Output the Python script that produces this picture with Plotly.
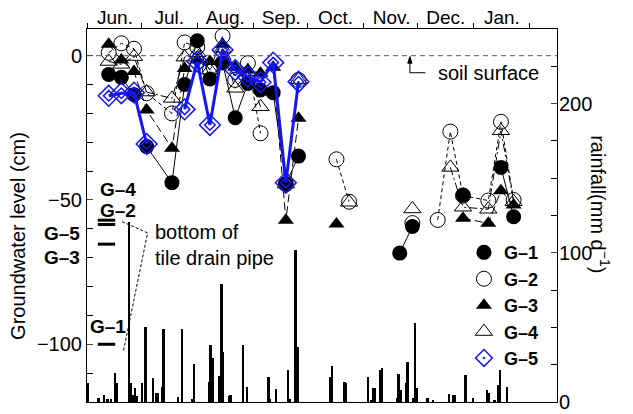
import pandas as pd
import plotly.graph_objects as go

# ---------------- data ----------------
obs_dates = ["2006-06-13", "2006-06-20", "2006-06-27", "2006-07-04", "2006-07-18",
             "2006-07-25", "2006-08-01", "2006-08-08", "2006-08-15", "2006-08-22",
             "2006-08-29", "2006-09-05", "2006-09-12", "2006-09-19", "2006-09-26",
             "2006-10-03", "2006-10-17", "2006-10-24", "2006-11-07", "2006-11-21",
             "2006-11-28", "2006-12-05", "2006-12-12", "2006-12-19", "2006-12-26",
             "2007-01-09", "2007-01-16", "2007-01-23"]
N = None
g1 = [-6.5, -7.5, -13.5, -31.5, -44.0, -10.0, 5.2, -8.1, -2.5, -21.5,
      -9.6, -11.9, -12.8, -44.5, -34.8, N, N, N, N, -68.4,
      -59.2, N, N, N, -48.3, N, -38.7, -55.8]
g2 = [1.0, 4.3, 2.4, -13.0, -20.0, 4.6, 3.0, -5.0, 6.8, -8.4,
      -2.6, -26.9, N, -44.5, -8.4, N, -35.9, -50.6, N, N,
      -58.0, N, -56.9, -26.3, -48.5, -50.2, -22.9, -50.0]
g3 = [4.0, -1.5, -5.5, -18.8, -32.1, -4.4, -1.5, -2.0, 4.0, -4.0,
      -5.0, -6.1, -4.0, -57.0, -21.7, N, -58.3, N, N, N,
      N, N, N, N, -56.3, -58.1, -46.8, -51.7]
g4 = [-2.0, -3.0, -0.3, -12.6, -14.8, -0.5, 1.0, -5.0, 2.5, -11.3,
      -5.5, -17.7, N, -44.5, -8.4, N, N, -50.8, N, N,
      -53.1, N, N, -38.7, -52.5, -53.2, -26.0, -50.6]
g5 = [-13.9, -13.0, -12.8, -30.6, N, -18.6, -2.0, -24.0, 2.0, -5.0,
      -7.3, -9.2, -2.4, -44.0, -9.0, N, N, N, N, N,
      N, N, N, N, N, N, N, N]

rain_dates = ["2006-06-01", "2006-06-07", "2006-06-10", "2006-06-12", "2006-06-14",
              "2006-06-16", "2006-06-17", "2006-06-24", "2006-06-25", "2006-06-26",
              "2006-06-27", "2006-06-28", "2006-07-01", "2006-07-03", "2006-07-07",
              "2006-07-09", "2006-07-10", "2006-07-12", "2006-07-13", "2006-07-21",
              "2006-07-23", "2006-07-29", "2006-07-30", "2006-08-07", "2006-08-08",
              "2006-08-09", "2006-08-13", "2006-08-14", "2006-08-15", "2006-08-18",
              "2006-08-19", "2006-08-26", "2006-08-28", "2006-09-09", "2006-09-10",
              "2006-09-13", "2006-09-20", "2006-09-21", "2006-09-24", "2006-09-25",
              "2006-10-13", "2006-10-14", "2006-10-21", "2006-10-22", "2006-11-03",
              "2006-11-05", "2006-11-06", "2006-11-07", "2006-11-10", "2006-11-11",
              "2006-11-19", "2006-11-20", "2006-11-21", "2006-11-24", "2006-11-25",
              "2006-11-28", "2006-11-29", "2006-11-30", "2006-12-06", "2006-12-09",
              "2006-12-18", "2006-12-20", "2006-12-21", "2006-12-27", "2006-12-31",
              "2007-01-08", "2007-01-09", "2007-01-12", "2007-01-14", "2007-01-15",
              "2007-01-19"]
rain_mm = [13, 2.6, 4.7, 2, 2,
           19.6, 13, 120.8, 13, 4.7,
           9.6, 4, 13, 50.4, 15.8,
           6.3, 6, 10.3, 48.7, 3.6,
           48.7, 2, 25.4, 13.6, 38.2,
           29.3, 17.4, 78.8, 33.5, 4,
           4.5, 38, 10, 16.8, 2,
           8.5, 21.4, 2, 101.8, 37,
           17, 24.2, 13.6, 12.9, 16.8,
           1.5, 9.2, 9.2, 21.4, 22.5,
           2.5, 18.8, 8, 12.5, 26.7,
           3, 52.8, 9.2, 2.5, 0.8,
           5.3, 4.7, 4.7, 18, 2.5,
           8, 5.8, 1.5, 11.4, 21.4,
           9.8]

month_labels = ["Jun.", "Jul.", "Aug.", "Sep.", "Oct.", "Nov.", "Dec.", "Jan.", ""]
series_names = ["G\u20131", "G\u20132", "G\u20133", "G\u20134", "G\u20135"]
drain_names = ["G\u20134", "G\u20132", "G\u20135", "G\u20133", "G\u20131"]
drain_depth = [-57.0, -58.5, -58.5, -65.3, -100.0]

# ---------------- figure ----------------
FONT = "Liberation Sans, Arial, sans-serif"
BLUE = "#1414ff"
month_starts = pd.date_range("2006-06-01", "2007-02-01", freq="MS")

fig = go.Figure()

fig.add_trace(go.Bar(x=rain_dates, y=rain_mm, yaxis="y", marker=dict(color="black", line=dict(width=0)),
                     width=86400000, xperiod=86400000, xperiodalignment="middle", showlegend=False))

styles = [
    dict(line=dict(color="black", width=1), marker=dict(symbol="circle", size=15, color="black")),
    dict(line=dict(color="black", width=1, dash="4px,3px"),
         marker=dict(symbol="circle-open", size=15, color="black", line=dict(width=1))),
    dict(line=dict(color="black", width=1, dash="8px,4px"),
         marker=dict(symbol="triangle-up", size=14, color="black")),
    dict(line=dict(color="black", width=1, dash="8px,3px,2px,3px"),
         marker=dict(symbol="triangle-up-open", size=15, color="black", line=dict(width=1))),
    dict(line=dict(color=BLUE, width=3),
         marker=dict(symbol="diamond-open", size=16, color=BLUE, line=dict(width=1.5))),
]
for name, vals, st in zip(series_names, [g1, g2, g3, g4, g5], styles):
    fig.add_trace(go.Scatter(x=obs_dates, y=vals, yaxis="y2", mode="lines+markers",
                             connectgaps=False, showlegend=False, name=name, **st))
# inner diamond of G-5
fig.add_trace(go.Scatter(x=obs_dates, y=g5, yaxis="y2", mode="markers", showlegend=False,
                         marker=dict(symbol="diamond-open", size=8, color=BLUE, line=dict(width=1.5))))
# legend entries (markers only)
legend_markers = [s["marker"] for s in styles[:4]] + [
    dict(symbol="diamond-open-dot", size=13, color=BLUE, line=dict(width=1.5))]
for name, mk in zip(series_names, legend_markers):
    fig.add_trace(go.Scatter(x=[None], y=[None], yaxis="y2", mode="markers", name=name,
                             marker=mk, showlegend=True))

shapes = [dict(type="line", xref="paper", x0=0, x1=1, yref="y2", y0=0, y1=0,
               line=dict(color="#555555", width=1, dash="5px,4px"))]
for d in sorted(set(drain_depth)):
    shapes.append(dict(type="line", xref="paper", x0=0.023, x1=0.06, yref="y2", y0=d, y1=d,
                       line=dict(color="black", width=3)))
# pointer of the tile-drain note
shapes.append(dict(type="path", xref="paper", yref="y2",
                   path="M 0.0745,-57.5 L 0.129,-61.4 L 0.0772,-102.6",
                   line=dict(color="black", width=1, dash="3px,2px")))
# elbow arrow of the soil-surface note
shapes.append(dict(type="path", xref="paper", yref="y2",
                   path="M 0.72,-5.9 L 0.687,-5.9 L 0.687,-1.5",
                   line=dict(color="black", width=1)))
shapes.append(dict(type="path", xref="paper", yref="y2",
                   path="M 0.687,-0.3 L 0.6825,-2.6 L 0.6915,-2.6 Z",
                   fillcolor="black", line=dict(color="black", width=1)))

ann = [
    dict(text="Groundwater level (cm)", xref="paper", yref="paper", x=-0.147, y=0.445,
         xanchor="center", yanchor="middle", textangle=-90, showarrow=False, font=dict(size=20)),
    dict(text="rainfall(mm d<sup>\u22121</sup>)", xref="paper", yref="paper", x=1.091, y=0.531,
         xanchor="center", yanchor="middle", textangle=90, showarrow=False, font=dict(size=20)),
    dict(text="soil surface", xref="paper", yref="y2", x=0.743, y=-5.9, xanchor="left",
         yanchor="middle", showarrow=False, font=dict(size=20)),
    dict(text="bottom of<br>tile drain pipe", xref="paper", yref="y2", x=0.14, y=-65.6,
         xanchor="left", yanchor="middle", align="left", showarrow=False, font=dict(size=20)),
]
label_pos = {"G\u20134": (0.023, -46.3), "G\u20132": (0.023, -53.6), "G\u20135": (-0.096, -61.5),
             "G\u20133": (-0.096, -69.9), "G\u20131": (0.002, -93.9)}
for nm in drain_names:
    x, y = label_pos[nm]
    ann.append(dict(text="<b>%s</b>" % nm, xref="paper", yref="y2", x=x, y=y, xanchor="left",
                    yanchor="middle", showarrow=False, font=dict(size=19)))

fig.update_layout(
    width=625, height=406, margin=dict(l=79, r=76, t=21, b=12, autoexpand=False),
    paper_bgcolor="white", plot_bgcolor="white",
    font=dict(family=FONT, size=20, color="black"),
    bargap=0,
    xaxis=dict(type="date", side="top", range=["2006-06-01", "2007-02-16"], automargin=False,
               tickvals=list(month_starts), ticktext=month_labels, ticklabelshift=28,
               ticks="outside", ticklen=5, tickcolor="black", ticklabelstandoff=-9,
               showline=True, linecolor="black", linewidth=1, mirror=True, showgrid=False,
               zeroline=False, tickfont=dict(size=19)),
    yaxis=dict(side="right", range=[0, 250], tickvals=[0, 100, 200], ticks="inside", ticklen=6,
               automargin=False, ticklabelstandoff=-3,
               minor=dict(dtick=25, ticks="inside", ticklen=6, tickcolor="black"),
               showline=True, linecolor="black", linewidth=1, showgrid=False, zeroline=False,
               tickfont=dict(size=20)),
    yaxis2=dict(side="left", overlaying="y", range=[-120, 9.25], tickvals=[-100, -50, 0],
                ticks="inside", ticklen=6, automargin=False,
                minor=dict(dtick=10, ticks="inside", ticklen=6, tickcolor="black"),
                showline=True, linecolor="black", linewidth=1, showgrid=False, zeroline=False,
                tickfont=dict(size=20)),
    legend=dict(x=0.802, y=0.45, xanchor="left", yanchor="top", bgcolor="rgba(0,0,0,0)",
                font=dict(size=18, family=FONT, weight="bold"), tracegroupgap=0,
                itemsizing="trace"),
    shapes=shapes, annotations=ann,
)

fig.write_html("out.html")
